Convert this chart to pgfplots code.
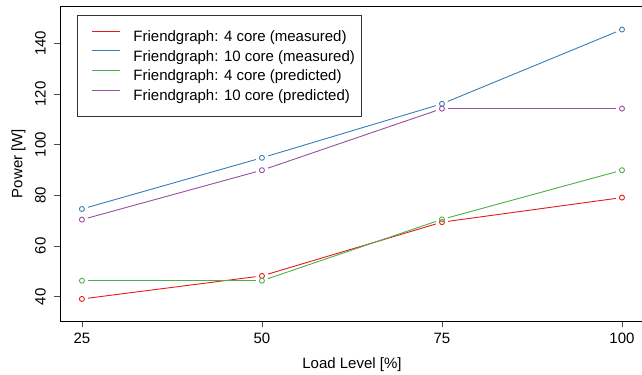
\documentclass[border=0pt]{standalone}
\usepackage{fontspec}
\setmainfont{Liberation Sans}
\usepackage{pgfplots}
\pgfplotsset{compat=1.18}
\definecolor{cRed}{HTML}{E41A1C}
\definecolor{cBlue}{HTML}{377EB8}
\definecolor{cGreen}{HTML}{4DAF4A}
\definecolor{cPurple}{HTML}{984EA3}
\pgfplotsset{
  gapline/.style={#1, line width=0.9bp, forget plot,
    quiver={u=\thisrow{u}, v=\thisrow{v},
      every arrow/.append style={shorten >=6.3bp, shorten <=6.3bp}}},
  pts/.style={#1, only marks, mark=o, mark size=2.5bp, forget plot,
    mark options={line width=0.9bp}},
}
\begin{document}
\fontsize{15bp}{18bp}\selectfont
\begin{tikzpicture}
\useasboundingbox (0,0) rectangle (642bp,375bp);
\begin{axis}[
  at={(60.3bp,54bp)}, anchor=south west,
  scale only axis, width=583.3bp, height=315bp,
  xmin=22, xmax=103, ymin=30.4, ymax=154.7,
  xtick={25,50,75,100}, ytick={40,60,80,100,120,140},
  xtick pos=bottom, ytick pos=left, tick align=outside,
  major tick length=6.3bp,
  tick style={black!70, line width=0.8bp},
  axis line style={black, line width=0.9bp},
  /pgf/number format/assume math mode=true,
  ticklabel style={font=\fontsize{15bp}{18bp}\selectfont},
  yticklabel style={rotate=90, anchor=south, inner sep=0pt},
  yticklabel shift=8bp,
  xticklabel style={inner sep=0pt},
  xticklabel shift=5.5bp,
  xlabel={Load Level [\%]}, ylabel={Power [W]},
  label style={font=\fontsize{15bp}{18bp}\selectfont},
  xlabel style={at={(axis description cs:0.5,-0.1508)}, anchor=base},
  ylabel style={at={(axis description cs:-0.0652,0.5)}, anchor=base, rotate=0},
  legend style={at={(axis description cs:0.02915,0.97143)}, anchor=north west,
    draw=black!80, line width=0.9bp, fill=white,
    inner xsep=7bp, inner ysep=12bp, row sep=1.67bp, column sep=13bp,
    nodes={inner sep=0pt, text height=14bp, text depth=4bp,
      font=\fontsize{15bp}{18bp}\selectfont},
    cells={anchor=west}},
  legend image code/.code={\path (0bp,0bp); \draw[#1] (6.7bp,5.4bp) -- (34.7bp,5.4bp);},
]
\addlegendimage{cRed, line width=1bp}
\addlegendentry{Friendgraph: 4 core (measured)}
\addlegendimage{cBlue, line width=1bp}
\addlegendentry{Friendgraph: 10 core (measured)}
\addlegendimage{cGreen, line width=1bp}
\addlegendentry{Friendgraph: 4 core (predicted)}
\addlegendimage{cPurple, line width=1bp}
\addlegendentry{Friendgraph: 10 core (predicted)}

% 4 core measured
\addplot[gapline=cRed] table {
x y u v
25 39.1 25 9.1
50 48.2 25 21.2
75 69.4 25 9.7
};
\addplot[pts=cRed] table {
x y
25 39.1
50 48.2
75 69.4
100 79.1
};
% 10 core measured
\addplot[gapline=cBlue] table {
x y u v
25 74.6 25 20.2
50 94.8 25 21.3
75 116.1 25 29.3
};
\addplot[pts=cBlue] table {
x y
25 74.6
50 94.8
75 116.1
100 145.4
};
% 4 core predicted
\addplot[gapline=cGreen] table {
x y u v
25 46.3 25 0
50 46.3 25 24.2
75 70.5 25 19.4
};
\addplot[pts=cGreen] table {
x y
25 46.3
50 46.3
75 70.5
100 89.9
};
% 10 core predicted
\addplot[gapline=cPurple] table {
x y u v
25 70.4 25 19.5
50 89.9 25 24.3
75 114.2 25 0
};
\addplot[pts=cPurple] table {
x y
25 70.4
50 89.9
75 114.2
100 114.2
};
\end{axis}
\end{tikzpicture}
\end{document}
